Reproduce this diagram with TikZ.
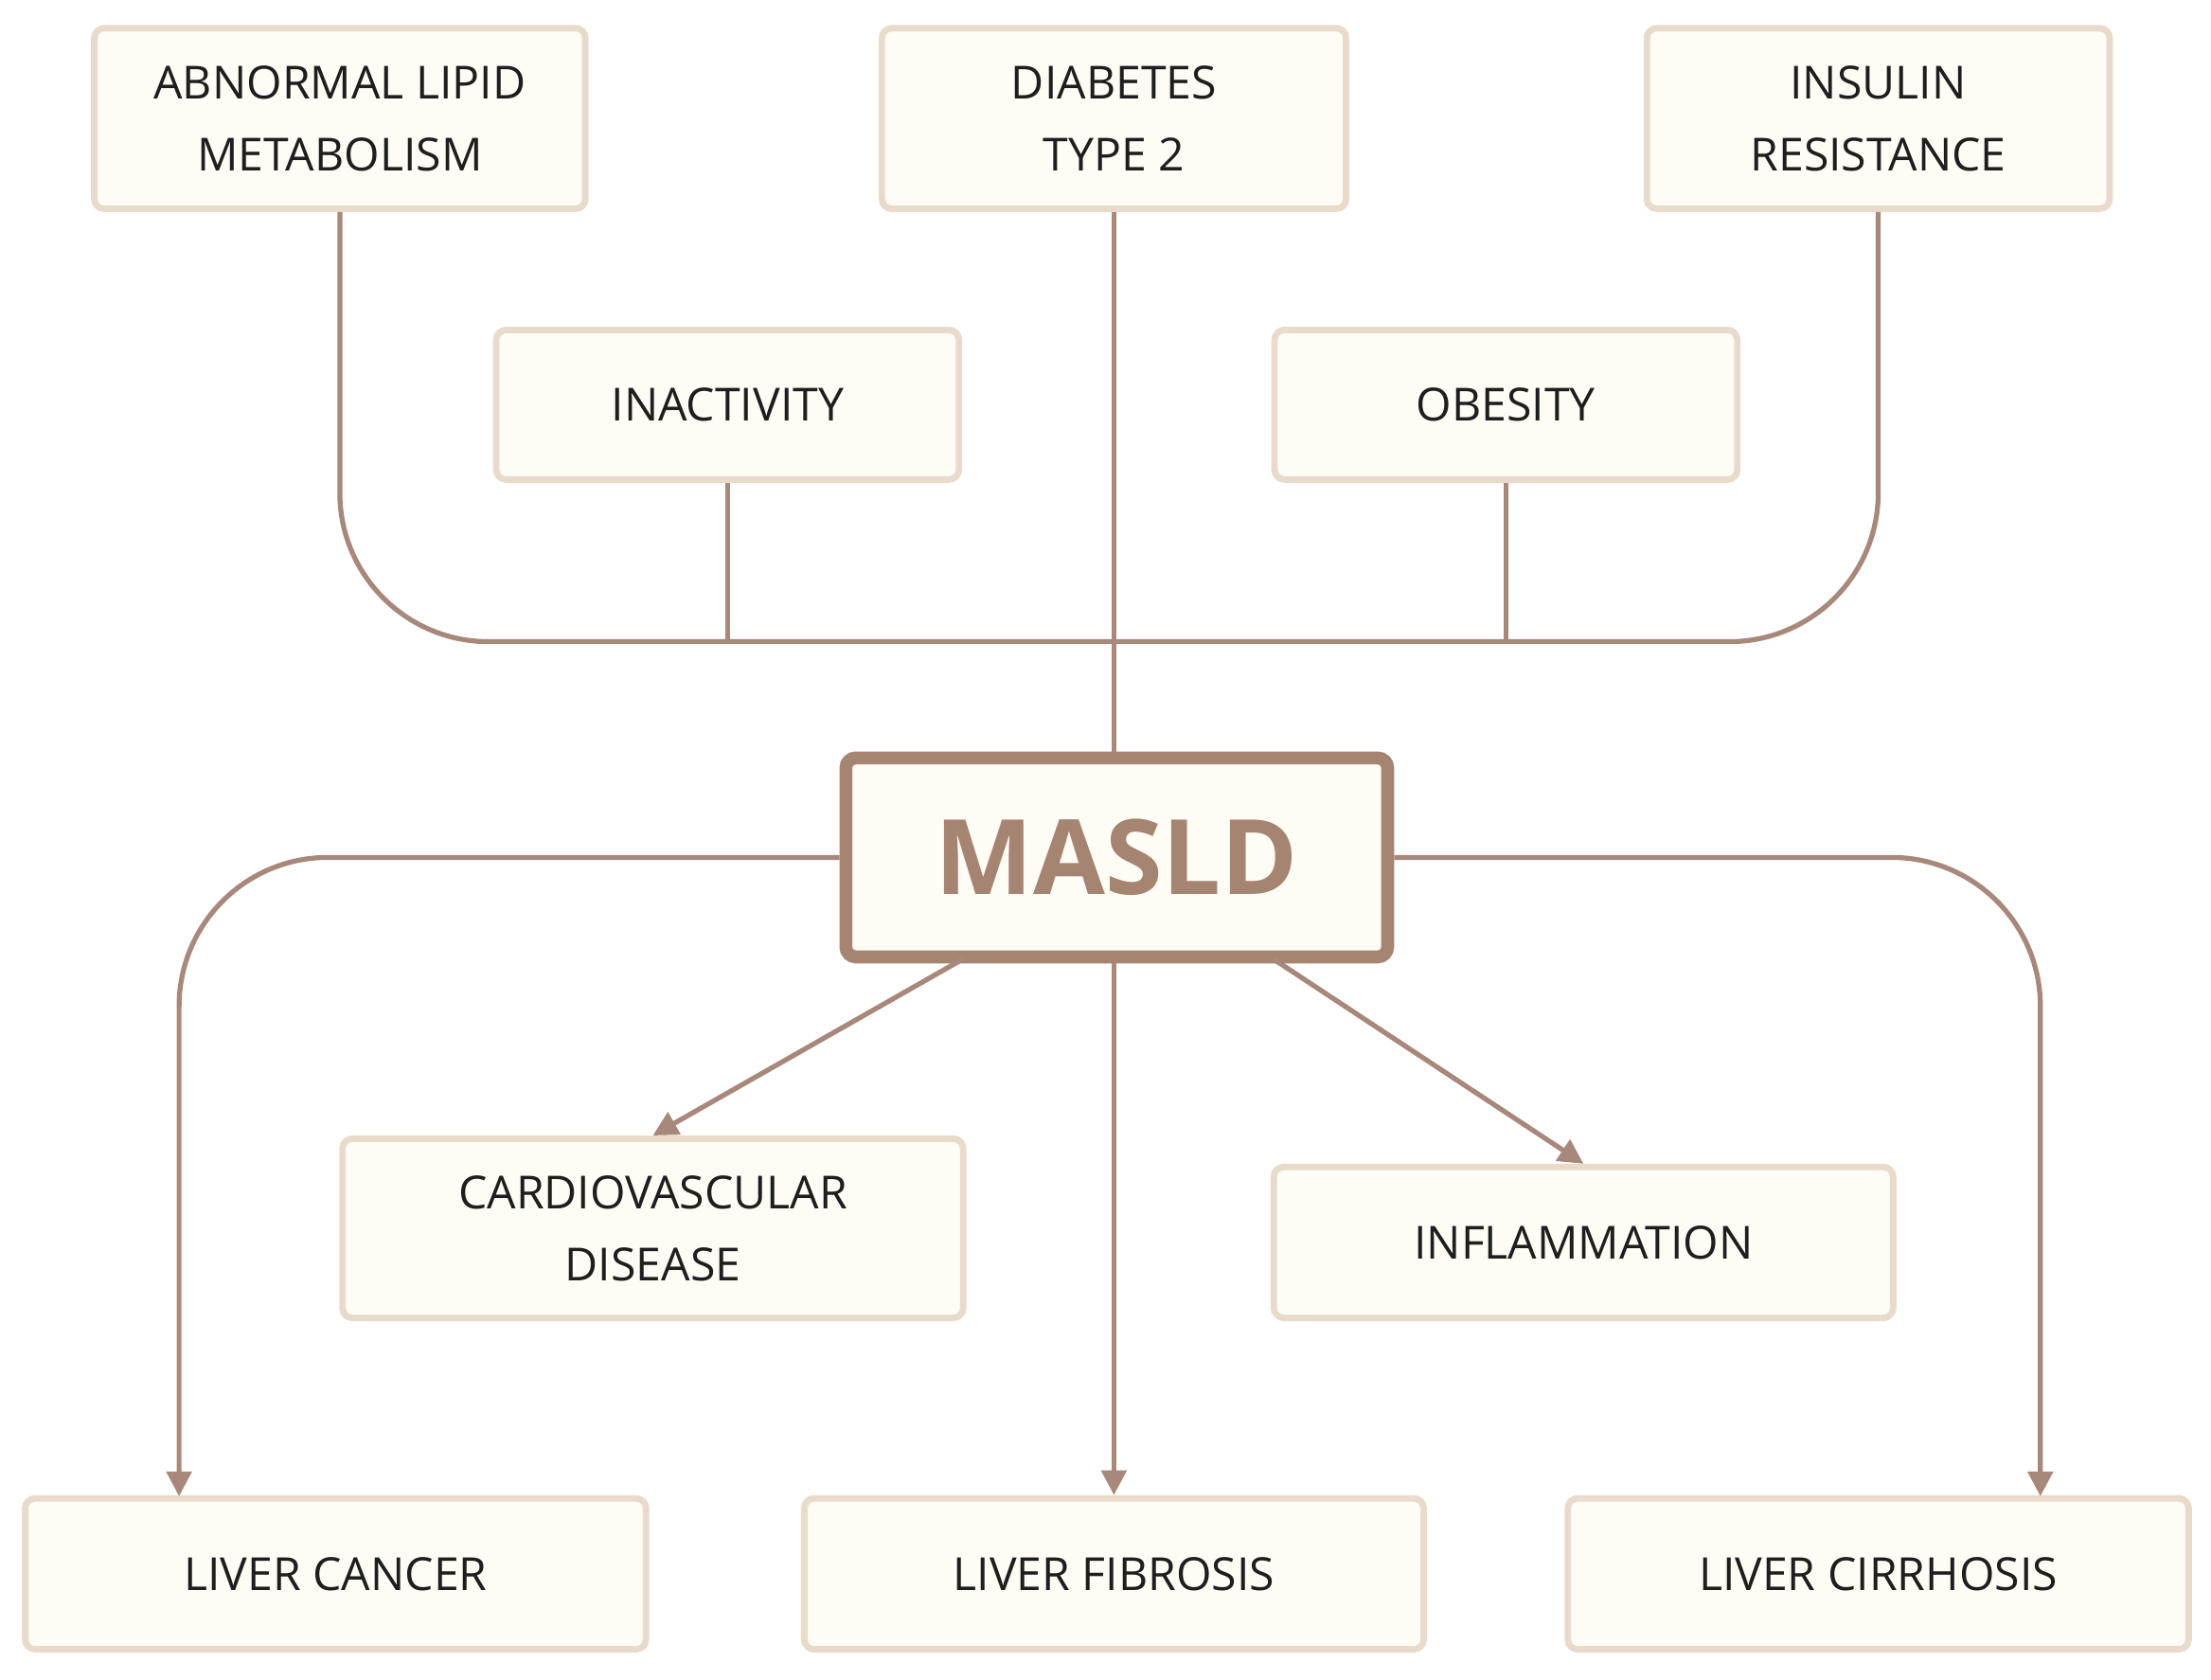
\documentclass[tikz,border=0pt]{standalone}
\usepackage{fontspec}
\setmainfont{Open Sans}
\usetikzlibrary{arrows.meta}
\definecolor{bd}{HTML}{E9DBCB}
\definecolor{fl}{HTML}{FFFCF5}
\definecolor{ln}{HTML}{A8887A}
\definecolor{tx}{HTML}{1E1E1E}
\definecolor{ms}{HTML}{A58472}
\begin{document}
\begin{tikzpicture}[x=0.01cm,y=-0.01cm,
 box/.style={draw=bd,line width=1.3pt,fill=fl,rounded corners=2pt,align=center,font=\fontsize{9.2}{14.5}\selectfont,text=tx},
 con/.style={draw=ln,line width=1pt},
 arr/.style={con,-{Triangle[length=5pt,width=5pt]}}]
\useasboundingbox (0,0) rectangle (1568,1191);
\fill[white] (0,0) rectangle (1568,1191);
\node[box,minimum width=3.48cm,minimum height=1.28cm] (ab) at (241,84) {ABNORMAL LIPID\\METABOLISM};
\node[box,minimum width=3.29cm,minimum height=1.28cm] (dt) at (790,84) {DIABETES\\TYPE 2};
\node[box,minimum width=3.28cm,minimum height=1.28cm] (ir) at (1332,84) {INSULIN\\RESISTANCE};
\node[box,minimum width=3.28cm,minimum height=1.06cm] (in) at (516,287) {INACTIVITY};
\node[box,minimum width=3.28cm,minimum height=1.06cm] (ob) at (1068,287) {OBESITY};
\node[draw=ms,line width=2.6pt,fill=fl,rounded corners=2pt,minimum width=3.84cm,minimum height=1.41cm,font=\fontsize{21}{21}\selectfont\bfseries,text=ms] (m) at (792,608) {MASLD};
\node[box,minimum width=4.4cm,minimum height=1.27cm] (cv) at (463,871) {CARDIOVASCULAR\\DISEASE};
\node[box,minimum width=4.39cm,minimum height=1.07cm] (inf) at (1123,881) {INFLAMMATION};
\node[box,minimum width=4.4cm,minimum height=1.07cm] (lc) at (238,1116) {LIVER CANCER};
\node[box,minimum width=4.39cm,minimum height=1.07cm] (lf) at (790,1116) {LIVER FIBROSIS};
\node[box,minimum width=4.4cm,minimum height=1.07cm] (lci) at (1332,1116) {LIVER CIRRHOSIS};
\draw[con,rounded corners=30] (ab.south) -- (ab.south |- 0,455) -- (ir.south |- 0,455) -- (ir.south);
\draw[con] (in.south) -- (in.south |- 0,455);
\draw[con] (ob.south) -- (ob.south |- 0,455);
\draw[con] (dt.south) -- (m.north -| dt.south);
\draw[arr,rounded corners=30] (m.west) -- (127,608) -- (127,1061);
\draw[arr,rounded corners=30] (m.east) -- (1447,608) -- (1447,1061);
\draw[arr] (m.south -| lf.north) -- (lf.north);
\draw[arr] (683,680) -- (cv.north);
\draw[arr] (903,680) -- (inf.north);
\end{tikzpicture}
\end{document}
